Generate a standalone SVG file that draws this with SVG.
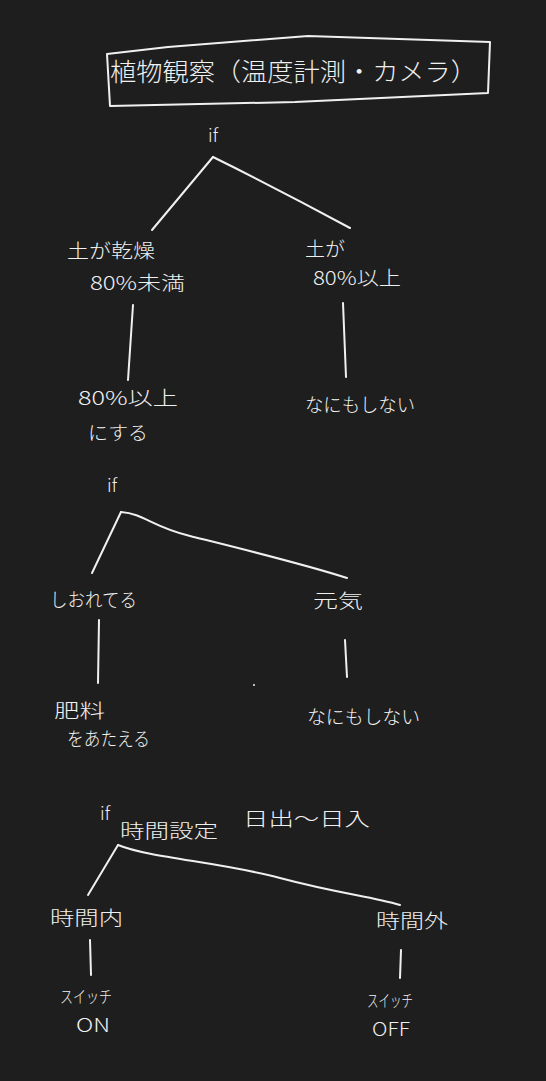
<svg xmlns="http://www.w3.org/2000/svg" width="546" height="1081" viewBox="0 0 546 1081">
<style>
.t{font-family:"Noto Sans CJK JP","Noto Sans",sans-serif;fill:#f0f0f0;font-weight:300}
.l{fill:none;stroke:#f0f0f0;stroke-width:2;stroke-linecap:round;stroke-linejoin:round}
</style>
<rect width="546" height="1081" fill="#1e1e1e"/>
<g id="title">
<path class="l" d="M107,54 L168,47 L308,36 L490,42 L488,93 L295,102 L110,106 L107,54"/>
<text class="t" x="110" y="81" font-size="25" textLength="367" lengthAdjust="spacingAndGlyphs">植物観察（温度計測・カメラ）</text>
</g>
<g id="if1"><text class="t" x="208" y="142" font-size="18">if</text></g>
<g id="dry"><text class="t" x="67" y="258" font-size="19" textLength="88" lengthAdjust="spacingAndGlyphs">土が乾燥</text><text class="t" x="90" y="290" font-size="19" textLength="95" lengthAdjust="spacingAndGlyphs">80%未満</text></g>
<g id="wet"><text class="t" x="305" y="256" font-size="19" textLength="40" lengthAdjust="spacingAndGlyphs">土が</text><text class="t" x="313" y="285" font-size="19" textLength="88" lengthAdjust="spacingAndGlyphs">80%以上</text></g>
<g id="water"><text class="t" x="78" y="405" font-size="19" textLength="100" lengthAdjust="spacingAndGlyphs">80%以上</text><text class="t" x="88" y="440" font-size="19" textLength="60" lengthAdjust="spacingAndGlyphs">にする</text></g>
<g id="none1"><text class="t" x="305" y="412" font-size="19" textLength="110" lengthAdjust="spacingAndGlyphs">なにもしない</text></g>
<g id="if2"><text class="t" x="107" y="492" font-size="18">if</text></g>
<g id="wilt"><text class="t" x="50" y="607" font-size="19" textLength="87" lengthAdjust="spacingAndGlyphs">しおれてる</text></g>
<g id="fine"><text class="t" x="313" y="608" font-size="19" textLength="50" lengthAdjust="spacingAndGlyphs">元気</text></g>
<g id="fert"><text class="t" x="54" y="718" font-size="19" textLength="51" lengthAdjust="spacingAndGlyphs">肥料</text><text class="t" x="67" y="746" font-size="19" textLength="83" lengthAdjust="spacingAndGlyphs">をあたえる</text></g>
<g id="none2"><text class="t" x="307" y="724" font-size="19" textLength="113" lengthAdjust="spacingAndGlyphs">なにもしない</text></g>
<g id="if3"><text class="t" x="100" y="820" font-size="18">if</text><text class="t" x="120" y="838" font-size="19" textLength="98" lengthAdjust="spacingAndGlyphs">時間設定</text><text class="t" x="243" y="826" font-size="19" textLength="127" lengthAdjust="spacingAndGlyphs">日出〜日入</text></g>
<g id="inside"><text class="t" x="50" y="925" font-size="19" textLength="73" lengthAdjust="spacingAndGlyphs">時間内</text></g>
<g id="outside"><text class="t" x="376" y="928" font-size="19" textLength="72" lengthAdjust="spacingAndGlyphs">時間外</text></g>
<g id="on"><text class="t" x="60" y="1003" font-size="17" textLength="52" lengthAdjust="spacingAndGlyphs">スイッチ</text><text class="t" x="76" y="1032" font-size="19" textLength="34" lengthAdjust="spacingAndGlyphs">ON</text></g>
<g id="off"><text class="t" x="367" y="1007" font-size="17" textLength="46" lengthAdjust="spacingAndGlyphs">スイッチ</text><text class="t" x="372" y="1036" font-size="19" textLength="38" lengthAdjust="spacingAndGlyphs">OFF</text></g>
<g id="connectors">
<path class="l" d="M213,157 L152,230"/>
<path class="l" d="M213,157 Q280,190 350,228"/>
<path class="l" d="M133,305 L128,380"/>
<path class="l" d="M343,303 L346,377"/>
<path class="l" d="M121,512 L92,573"/>
<path class="l" d="M121,512 C145,514 150,526 190,536 S300,563 347,578"/>
<path class="l" d="M99,620 L98,683"/>
<path class="l" d="M345,640 L347,677"/>
<path class="l" d="M118,845 L88,895"/>
<path class="l" d="M118,845 C150,858 220,862 280,878 S370,896 400,905"/>
<path class="l" d="M90,940 L91,975"/>
<path class="l" d="M401,950 L400,978"/>
<circle cx="254" cy="685" r="1" fill="#f0f0f0"/>
</g>
</svg>
